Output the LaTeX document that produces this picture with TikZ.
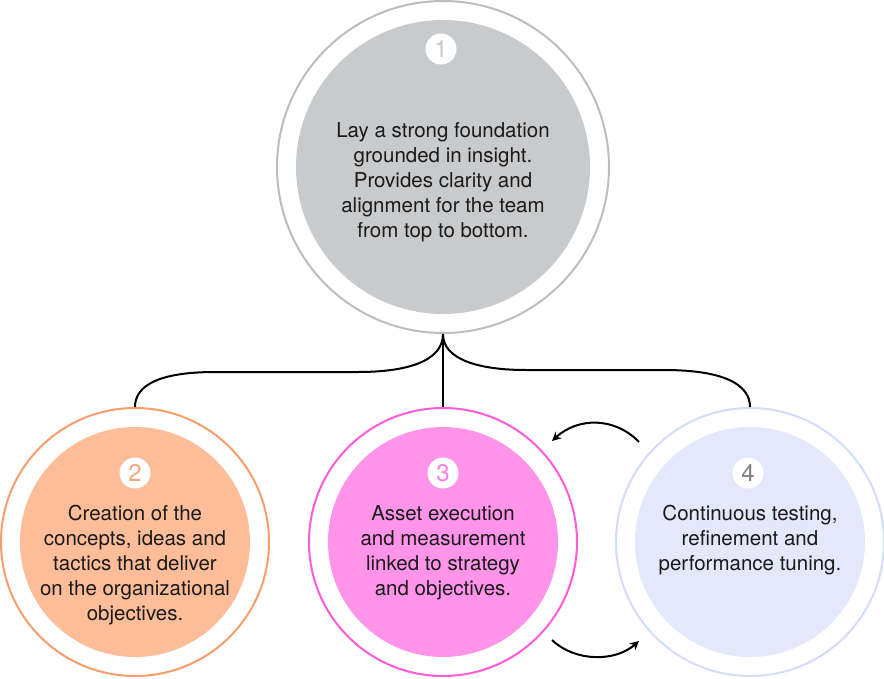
\documentclass[tikz,border=0pt]{standalone}
\usepackage{fontspec}
\setmainfont{TeX Gyre Heros}
\usetikzlibrary{arrows.meta}
\definecolor{grayfill}{HTML}{C9CACC}
\definecolor{grayring}{HTML}{BDBDBD}
\definecolor{orfill}{HTML}{FDBD98}
\definecolor{orring}{HTML}{F99D6A}
\definecolor{ornum}{HTML}{F9A57C}
\definecolor{pkfill}{HTML}{FF94E8}
\definecolor{pkring}{HTML}{FF5AD9}
\definecolor{pknum}{HTML}{FF7EDF}
\definecolor{blfill}{HTML}{E3E8FB}
\definecolor{blring}{HTML}{D3DCF8}
\definecolor{numgray}{HTML}{808080}
\definecolor{txt}{HTML}{1A1A1A}
\tikzset{
  ring/.style={circle, draw=#1, line width=2pt, fill=white, inner sep=0pt},
  disc/.style={circle, fill=#1, inner sep=0pt},
  badge/.style={circle, fill=white, minimum size=31pt, inner sep=0pt, text=#1, font=\fontsize{24}{24}\selectfont},
  body/.style={align=center, anchor=north, inner sep=0pt, text=txt, font=\fontsize{20.5}{25}\selectfont},
  link/.style={line width=2pt, black},
  cyc/.style={line width=2pt, black, -{Stealth[length=9pt,width=9pt]}}
}
\begin{document}
\begin{tikzpicture}[x=1pt,y=-1pt]
\useasboundingbox (0,0) rectangle (884,678);
% top circle
\node[ring=grayring, minimum size=332pt] (top) at (443,167) {};
\node[disc=grayfill, minimum size=294pt] (topd) at (443,167) {};
\node[badge=grayfill] (b1) at (441,49) {1};
\node[body] (t1) at (443,122) {Lay a strong foundation\\grounded in insight.\\Provides clarity and\\alignment for the team\\from top to bottom.};
% circle 2
\node[ring=orring, minimum size=268pt] (c2) at (135,542) {};
\node[disc=orfill, minimum size=230pt] (c2d) at (135,542) {};
\node[badge=ornum] (b2) at (135,473) {2};
\node[body] (t2) at (135,505) {Creation of the\\concepts, ideas and\\tactics that deliver\\on the organizational\\objectives.};
% circle 3
\node[ring=pkring, minimum size=268pt] (c3) at (443,542) {};
\node[disc=pkfill, minimum size=230pt] (c3d) at (443,542) {};
\node[badge=pknum] (b3) at (443,473) {3};
\node[body] (t3) at (443,505) {Asset execution\\and measurement\\linked to strategy\\and objectives.};
% circle 4
\node[ring=blring, minimum size=268pt] (c4) at (750,542) {};
\node[disc=blfill, minimum size=230pt] (c4d) at (750,542) {};
\node[badge=numgray] (b4) at (748,473) {4};
\node[body] (t4) at (750,505) {Continuous testing,\\refinement and\\performance tuning.};
% connectors
\draw[link] (top.south) .. controls (443,362) and (405,372) .. (358,372)
  -- (215,372) .. controls (160,372) and (135,385) .. (c2.north);
\draw[link] (top.south) -- (c3.north);
\draw[link] (top.south) .. controls (443,360) and (480,370) .. (526,370)
  -- (664,370) .. controls (725,370) and (750,385) .. (c4.north);
% cycle arrows
\coordinate (a1s) at (639,442);
\coordinate (a1e) at (552,441);
\coordinate (a2s) at (552,640);
\coordinate (a2e) at (639,641);
\draw[cyc] (a1s) .. controls (615,417) and (578,417) .. (a1e);
\draw[cyc] (a2s) .. controls (575,662) and (615,662) .. (a2e);
\end{tikzpicture}
\end{document}
